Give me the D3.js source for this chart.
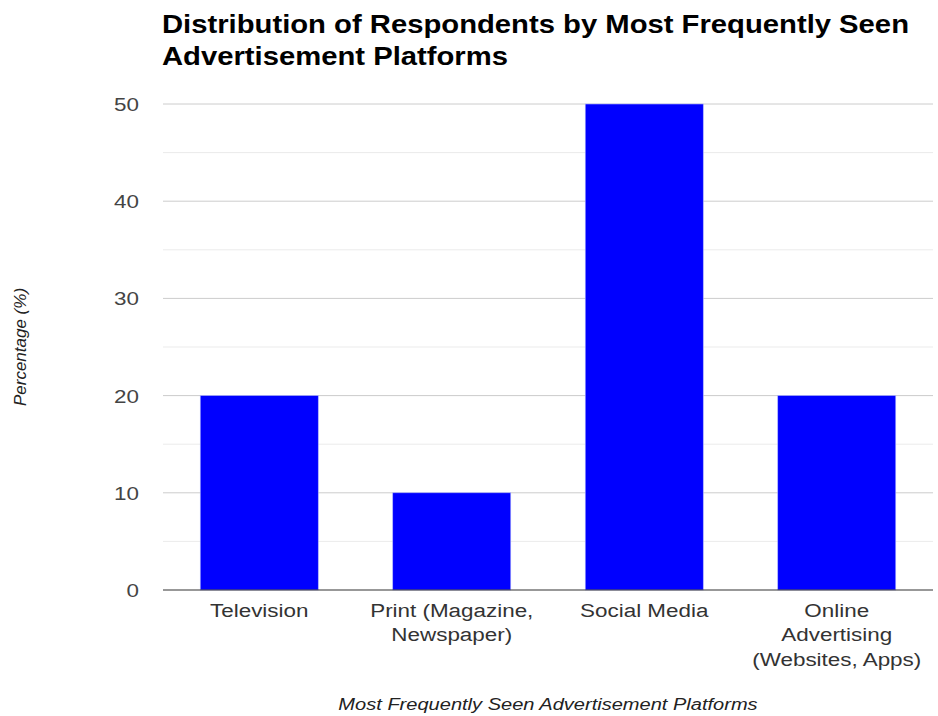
<!DOCTYPE html>
<html>
<head>
<meta charset="utf-8">
<script src="https://cdn.jsdelivr.net/npm/d3@7"></script>
<style>
  body { margin: 0; background: #fff; }
  text { font-family: "Liberation Sans", Arial, sans-serif; }
</style>
</head>
<body>
<div id="chart"></div>
<script>
// data
const platforms = [
  ["Television"],
  ["Print (Magazine,", "Newspaper)"],
  ["Social Media"],
  ["Online", "Advertising", "(Websites, Apps)"]
];
const percentages = [20, 10, 50, 20];
const yTicks = [0, 10, 20, 30, 40, 50];
const yMinorTicks = [5, 15, 25, 35, 45];

const width = 938, height = 716;
const margin = { top: 104, right: 5, bottom: 126, left: 163 };
const plotW = width - margin.left - margin.right;
const plotH = height - margin.top - margin.bottom;

// the reference text looks a bit wide, so stretch it sideways
const stretch = 1.18;

const svg = d3.select("#chart").append("svg")
  .attr("width", width)
  .attr("height", height);

const g = svg.append("g")
  .attr("transform", `translate(${margin.left},${margin.top})`);

const x = d3.scaleBand()
  .domain(d3.range(platforms.length))
  .range([0, plotW])
  .paddingInner(0.387)
  .paddingOuter(0.1935);

const y = d3.scaleLinear()
  .domain([0, 50])
  .range([plotH, 0]);

// minor gridlines
g.selectAll(".minor").data(yMinorTicks).enter().append("line")
  .attr("x1", 0).attr("x2", plotW)
  .attr("y1", d => y(d)).attr("y2", d => y(d))
  .attr("stroke", "#ebebeb").attr("stroke-width", 1);

// major gridlines
g.selectAll(".major").data(yTicks.slice(1)).enter().append("line")
  .attr("x1", 0).attr("x2", plotW)
  .attr("y1", d => y(d)).attr("y2", d => y(d))
  .attr("stroke", "#cccccc").attr("stroke-width", 1);

// bars
g.selectAll("rect").data(percentages).enter().append("rect")
  .attr("x", (d, i) => x(i))
  .attr("width", x.bandwidth())
  .attr("y", d => y(d))
  .attr("height", d => plotH - y(d))
  .attr("fill", "#0000ff")
  .attr("stroke", "#aab0ff")
  .attr("stroke-width", 0.6);

// baseline
g.append("line")
  .attr("x1", 0).attr("x2", plotW)
  .attr("y1", y(0)).attr("y2", y(0))
  .attr("stroke", "#333").attr("stroke-width", 1.2);

// y tick labels
g.selectAll(".ylab").data(yTicks).enter().append("text")
  .attr("transform", d => `translate(-24,${y(d) + 7}) scale(${stretch},1)`)
  .attr("text-anchor", "end")
  .attr("fill", "#444")
  .style("font-size", "19px")
  .text(d => d);

// x tick labels (wrapped)
const xl = g.selectAll(".xlab").data(platforms).enter().append("text")
  .attr("text-anchor", "middle")
  .attr("fill", "#333")
  .style("font-size", "19px")
  .attr("transform", (d, i) => `translate(${x(i) + x.bandwidth() / 2},${plotH + 27}) scale(${stretch},1)`);
xl.selectAll("tspan").data(d => d).enter().append("tspan")
  .attr("x", 0)
  .attr("dy", (d, i) => i === 0 ? 0 : 24.5)
  .text(d => d);

// axis titles
svg.append("text")
  .attr("transform", `translate(548,710) scale(${stretch},1)`)
  .attr("text-anchor", "middle")
  .attr("fill", "#222")
  .style("font-size", "17px")
  .style("font-style", "italic")
  .text("Most Frequently Seen Advertisement Platforms");

svg.append("text")
  .attr("transform", "translate(26,347) rotate(-90)")
  .attr("text-anchor", "middle")
  .attr("fill", "#222")
  .style("font-size", "17px")
  .style("font-style", "italic")
  .text("Percentage (%)");

// title
const title = svg.append("text")
  .attr("transform", `translate(162,33) scale(1.17,1)`)
  .attr("fill", "#000")
  .style("font-size", "25px")
  .style("font-weight", "bold");
title.append("tspan").attr("x", 0).text("Distribution of Respondents by Most Frequently Seen");
title.append("tspan").attr("x", 0).attr("dy", 32).text("Advertisement Platforms");
</script>
</body>
</html>
